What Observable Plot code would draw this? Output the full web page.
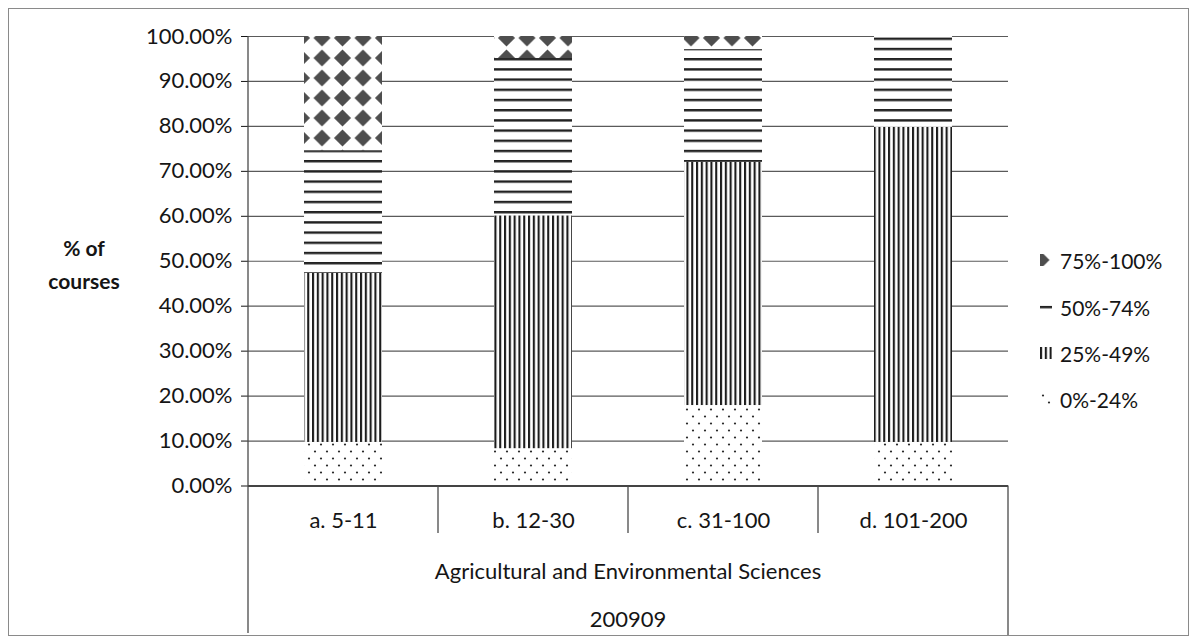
<!DOCTYPE html>
<html><head><meta charset="utf-8">
<script src="https://cdn.jsdelivr.net/npm/d3@7"></script>
<script src="https://cdn.jsdelivr.net/npm/@observablehq/plot@0.6"></script>
<style>
body{margin:0;background:#fff;}
#wrap{position:relative;width:1196px;height:643px;overflow:hidden;font-family:Lato,"Open Sans",sans-serif;color:#151515;}
#chart{position:absolute;left:0;top:0;}
#frame{position:absolute;left:8px;top:8px;width:1181px;height:628px;border:1.5px solid #8a8a8a;box-sizing:border-box;pointer-events:none;}
.leg{position:absolute;left:1040px;height:26px;display:flex;align-items:center;font-size:21px;white-space:nowrap;}
.leg svg{margin-right:8px;}
</style></head><body>
<div id="wrap"><div id="chart"></div><div id="legend"></div><div id="frame"></div></div>
<script>
// ---- data (percent of courses) ----
const categories = ["a. 5-11", "b. 12-30", "c. 31-100", "d. 101-200"];
const seriesNames = ["0%-24%", "25%-49%", "50%-74%", "75%-100%"];
const s0to24   = [9.7, 8.3, 17.9, 9.7];
const s25to49  = [37.6, 51.8, 54.1, 70.1];
const s50to74  = [27.3, 35.0, 25.1, 20.2];
const s75to100 = [25.4, 4.9, 2.9, 0.0];
const yTicks = [0, 10, 20, 30, 40, 50, 60, 70, 80, 90, 100];
const groupLabel = "Agricultural and Environmental Sciences";
const periodLabel = "200909";
const yLabelLines = ["% of", "courses"];

const seriesValues = [s0to24, s25to49, s50to74, s75to100];
const patternIds = {"0%-24%": "pDots", "25%-49%": "pVert", "50%-74%": "pHorz", "75%-100%": "pDiam"};

const rows = [];
categories.forEach((c, i) => {
  seriesNames.forEach((s, j) => rows.push({category: c, series: s, value: seriesValues[j][i]}));
});

const plot = Plot.plot({
  width: 1196, height: 643,
  marginLeft: 248, marginRight: 188, marginTop: 36, marginBottom: 157.5,
  style: {fontFamily: "Lato, 'Open Sans', sans-serif", fontSize: "22px", color: "#151515", background: "transparent", overflow: "visible"},
  x: {domain: categories, paddingInner: 0.59, paddingOuter: 0.295, tickSize: 0, tickPadding: 26, label: null},
  y: {domain: [0, 100], ticks: yTicks, tickFormat: d => d.toFixed(2) + "%", tickSize: 7, tickPadding: 9, label: null},
  color: {type: "identity"},
  marks: [
    Plot.ruleY(yTicks, {stroke: "#5a5a5a", strokeWidth: 1.2}),
    Plot.barY(rows, {x: "category", y: "value", z: "series", fill: d => "url(#" + patternIds[d.series] + ")"}),
    Plot.ruleY([0], {stroke: "#444", strokeWidth: 1.8})
  ]
});
document.getElementById("chart").appendChild(plot);

// ---- fill patterns ----
const svg = d3.select(plot);
const defs = svg.insert("defs", ":first-child");
function pat(id, w, h, x, y) {
  const p = defs.append("pattern").attr("id", id).attr("patternUnits", "userSpaceOnUse")
    .attr("width", w).attr("height", h).attr("x", x).attr("y", y);
  p.append("rect").attr("width", w).attr("height", h).attr("fill", "#fff");
  return p;
}
const pd = pat("pDots", 12, 14, 0, 0);
pd.append("circle").attr("cx", 3).attr("cy", 3.5).attr("r", 1.1).attr("fill", "#2a2a2a");
pd.append("circle").attr("cx", 9).attr("cy", 10.5).attr("r", 1.1).attr("fill", "#2a2a2a");
const pv = pat("pVert", 4.8, 10, 0, 0);
pv.append("rect").attr("x", 0).attr("width", 2.1).attr("height", 10).attr("fill", "#1c1c1c");
const ph = pat("pHorz", 10, 10.2, 0, 58);
ph.append("rect").attr("y", 0).attr("width", 10).attr("height", 2.4).attr("fill", "#222");
const pm = pat("pDiam", 20.5, 20, 311.75, 28);
pm.append("polygon").attr("points", "10.25,1.5 18.75,10 10.25,18.5 1.75,10").attr("fill", "#4e4e4e");

// ---- category table lines & labels ----
const xs = plot.scale("x");
const step = xs.step, bw = xs.bandwidth;
const left = xs.range[0], right = xs.range[1];
const ys = plot.scale("y");
const yBase = ys.range[0], yTop = ys.range[1];
const bandStart = (c, i) => (xs.apply ? xs.apply(c) - (step - bw) / 2 : left + i * step);
const g = svg.append("g").attr("stroke", "#4a4a4a").attr("stroke-width", 1.3);
g.append("line").attr("x1", left).attr("x2", left).attr("y1", yTop).attr("y2", 633);
g.append("line").attr("x1", right).attr("x2", right).attr("y1", yBase).attr("y2", 635);
categories.forEach((c, i) => {
  if (i === 0) return;
  const bx = bandStart(c, i);
  g.append("line").attr("x1", bx).attr("x2", bx).attr("y1", yBase).attr("y2", 533);
});
const tg = svg.append("g").attr("fill", "#151515").attr("text-anchor", "middle").attr("font-size", 22);
tg.append("text").attr("x", (left + right) / 2).attr("y", 570).attr("dominant-baseline", "central").text(groupLabel);
tg.append("text").attr("x", (left + right) / 2).attr("y", 618).attr("dominant-baseline", "central").text(periodLabel);
const yl = svg.append("g").attr("fill", "#151515").attr("text-anchor", "middle").attr("font-size", 21).attr("font-weight", "bold");
yLabelLines.forEach((t, i) => yl.append("text").attr("x", 84).attr("y", 247 + i * 33).attr("dominant-baseline", "central").text(t));

// ---- legend ----
const legendOrder = ["75%-100%", "50%-74%", "25%-49%", "0%-24%"];
const legendY = [260, 307, 353, 399];
const swatchShift = {"75%-100%": [-321, -32], "50%-74%": [0, -53.1], "25%-49%": [0, 0], "0%-24%": [0, -1]};
const legend = d3.select("#legend");
legendOrder.forEach((s, i) => {
  const item = legend.append("div").attr("class", "leg").style("top", (legendY[i] - 13) + "px");
  const sw = item.append("svg").attr("width", 12).attr("height", 12);
  const [a, b] = swatchShift[s];
  sw.append("g").attr("transform", `translate(${a},${b})`)
    .append("rect").attr("x", -a).attr("y", -b).attr("width", 12).attr("height", 12)
    .attr("fill", "url(#" + patternIds[s] + ")");
  item.append("span").text(s);
});
</script>
</body></html>
